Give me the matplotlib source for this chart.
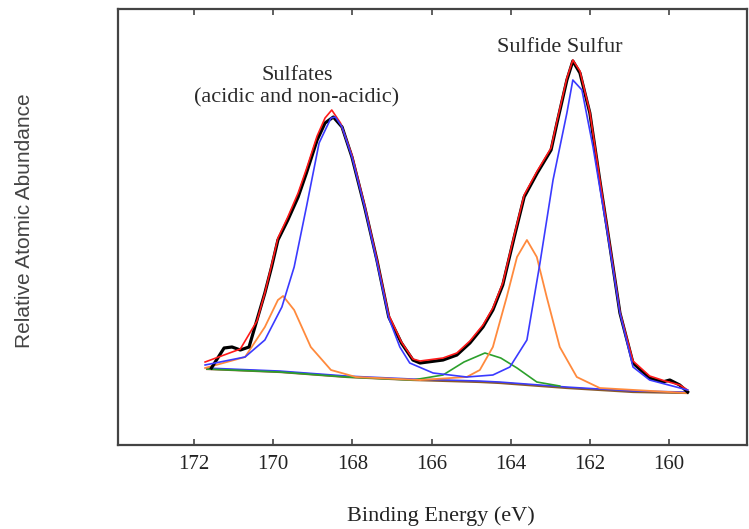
import matplotlib
matplotlib.use("Agg")
import matplotlib.pyplot as plt

# ---- data (binding energy in eV, intensity in arbitrary units) ----
measured_x = [171.56, 171.24, 171.04, 170.83, 170.61, 170.41, 170.21, 170.04, 169.88, 169.63,
              169.37, 169.16, 168.89, 168.69, 168.48, 168.26, 168.01, 167.69, 167.38, 167.08,
              166.76, 166.47, 166.29, 165.71, 165.36, 165.03, 164.70, 164.45, 164.20, 163.91,
              163.66, 163.33, 162.98, 162.83, 162.58, 162.43, 162.25, 162.00, 161.75, 161.49,
              161.24, 160.91, 160.49, 160.16, 159.98, 159.73, 159.53]
measured_y = [77, 97, 98, 95, 98, 125, 152, 178, 205, 225,
              248, 272, 305, 322, 328, 318, 288, 238, 185, 128,
              102, 85, 82, 85, 90, 102, 118, 135, 160, 208,
              248, 272, 295, 322, 365, 384, 372, 332, 265, 198,
              132, 82, 67, 63, 65, 60, 53]

envelope_x = [171.72, 171.24, 170.83, 170.41, 170.21, 170.04, 169.88, 169.63, 169.37, 169.16,
              168.89, 168.69, 168.52, 168.30, 168.01, 167.69, 167.38, 167.08, 166.76, 166.47,
              166.29, 165.71, 165.36, 165.03, 164.70, 164.45, 164.20, 163.91, 163.66, 163.33,
              162.98, 162.83, 162.58, 162.43, 162.25, 162.00, 161.75, 161.49, 161.24, 160.91,
              160.49, 160.10, 159.73, 159.53]
envelope_y = [83, 90, 96, 124, 152, 180, 207, 228, 252, 276,
              309, 327, 335, 322, 290, 240, 186, 130, 103, 86,
              84, 87, 92, 104, 120, 137, 162, 210, 250, 274,
              297, 324, 367, 385, 374, 333, 266, 199, 133, 84,
              69, 64, 60, 55]

blue_x = [171.72, 170.71, 170.21, 169.78, 169.47, 169.16, 168.84, 168.54, 168.43, 168.26,
          168.01, 167.69, 167.38, 167.08, 166.80, 166.55, 165.96, 165.11, 164.45, 164.02,
          163.59, 163.26, 162.93, 162.58, 162.43, 162.20, 161.92, 161.57, 161.24, 160.91,
          160.49, 159.53]
blue_y = [80, 88, 105, 138, 178, 238, 302, 327, 328, 318,
          288, 238, 183, 127, 98, 82, 72, 68, 70, 78,
          105, 182, 265, 332, 365, 355, 298, 215, 132, 78,
          65, 55]

orange1_x = [171.72, 170.71, 170.21, 169.88, 169.75, 169.47, 169.05, 168.54, 167.91, 166.29]
orange1_y = [77, 88, 118, 145, 149, 135, 98, 75, 68, 65]

orange2_x = [166.29, 165.11, 164.78, 164.45, 164.10, 163.84, 163.59, 163.34, 163.09, 162.76,
             162.33, 161.75, 159.55]
orange2_y = [65, 68, 75, 98, 148, 188, 205, 188, 148, 98,
             68, 57, 52]

green_x = [171.67, 169.83, 168.14, 166.47, 165.71, 165.18, 164.65, 164.25, 163.84, 163.34, 162.76]
green_y = [76, 73, 68, 65, 70, 83, 92, 87, 77, 63, 59]

base_x = [171.67, 169.83, 168.14, 166.47, 164.78, 164.27, 162.58, 160.91, 159.53]
base_y = [76, 73, 68, 65, 63, 62, 57, 53, 52]

xticks = [172, 170, 168, 166, 164, 162, 160]

# ---- figure ----
fig = plt.figure(figsize=(7.49, 5.29), dpi=100)
ax = fig.add_axes([118/749, 1-445/529, (747-118)/749, (445-9)/529])

serif = ["Liberation Serif", "DejaVu Serif"]

ax.plot(base_x, base_y, color="#8a5a2a", lw=1.6)
ax.plot(base_x, [v + 1 for v in base_y], color="#3a3aff", lw=1.1)
ax.plot(green_x, green_y, color="#2ca02c", lw=1.2)
ax.plot(orange1_x, orange1_y, color="#ff8a3d", lw=1.3)
ax.plot(orange2_x, orange2_y, color="#ff8a3d", lw=1.3)
ax.plot(measured_x, measured_y, color="black", lw=2.3)
ax.plot(envelope_x, envelope_y, color="#ff1a1a", lw=1.2)
ax.plot(blue_x, blue_y, color="#3a3aff", lw=1.2)

ax.set_xlim(173.92, 158.03)
ax.set_ylim(0, 436)
ax.set_xticks(xticks)
ax.set_xticklabels([str(t) for t in xticks], fontfamily=serif, fontsize=15, color="#222222")
ax.set_yticks([])
ax.tick_params(axis="x", direction="in", top=True, bottom=True, length=4, width=1.2,
               color="#444444", pad=7)
for s in ax.spines.values():
    s.set_color("#444444")
    s.set_linewidth(1.6)

ax.text(169.40, 370, "Sulfates", ha="center", va="center", fontfamily=serif,
        fontsize=16, color="#2a2a2a")
ax.text(169.40, 347, "(acidic and non-acidic)", ha="center", va="center", fontfamily=serif,
        fontsize=16, color="#2a2a2a")
ax.text(162.76, 397, "Sulfide Sulfur", ha="center", va="center", fontfamily=serif,
        fontsize=16, color="#2a2a2a")

fig.text(441/749, 1-516/529, "Binding Energy (eV)", ha="center", va="center",
         fontfamily=serif, fontsize=16, color="#222222")
fig.text(25/749, 1-221/529, "Relative Atomic Abundance", ha="center", va="center",
         rotation=90, fontfamily=["Liberation Sans", "DejaVu Sans"], fontsize=15,
         color="#444444")

fig.savefig("out.png", dpi=100)
